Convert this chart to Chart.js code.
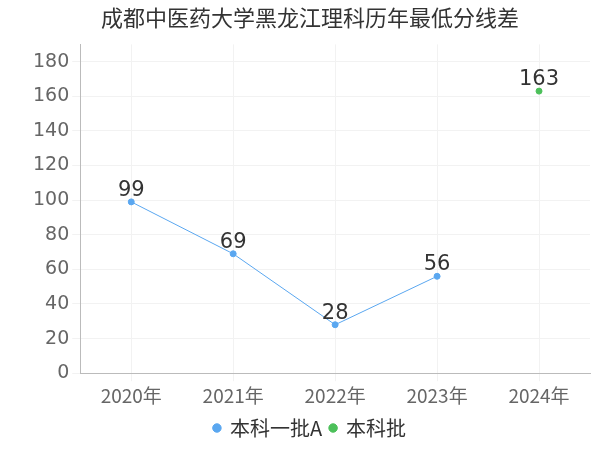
<!DOCTYPE html>
<html><head><meta charset="utf-8">
<script src="https://cdn.jsdelivr.net/npm/chart.js@4"></script>
<style>body{margin:0;background:#fff}#wrap{width:600px;height:450px}</style>
</head><body><div id="wrap"><canvas id="c"></canvas></div>
<script>
const years = ['2020年', '2021年', '2022年', '2023年', '2024年'];
const batchA = [99, 69, 28, 56, null];
const batchB = [null, null, null, null, 163];

const valueLabels = {
    id: 'valueLabels',
    afterDatasetsDraw(chart) {
        const { ctx } = chart;
        ctx.save();
        ctx.font = '21px "DejaVu Sans", sans-serif';
        ctx.fillStyle = '#333';
        ctx.textAlign = 'center';
        ctx.textBaseline = 'bottom';
        chart.data.datasets.forEach((ds, i) => {
            chart.getDatasetMeta(i).data.forEach((pt, j) => {
                if (ds.data[j] == null) return;
                ctx.fillText(ds.data[j], pt.x, pt.y - 1);
            });
        });
        ctx.restore();
    },
};

new Chart(document.getElementById('c'), {
    type: 'line',
    plugins: [valueLabels],
    data: {
        labels: years,
        datasets: [
            { label: '本科一批A', data: batchA, borderColor: '#5aa7f0', backgroundColor: '#5aa7f0', borderWidth: 1, pointRadius: 3 },
            { label: '本科批', data: batchB, borderColor: '#4cc05a', backgroundColor: '#4cc05a', borderWidth: 1, pointRadius: 3 },
        ],
    },
    options: {
        responsive: true,
        maintainAspectRatio: false,
        animation: false,
        layout: { padding: { left: 30, right: 10, top: 0, bottom: 2 } },
        plugins: {
            title: { display: true, text: '成都中医药大学黑龙江理科历年最低分线差', color: '#333', font: { size: 22, weight: 'normal', family: '"Noto Sans CJK SC", sans-serif' }, padding: { top: 4, bottom: 14 } },
            legend: { position: 'bottom', labels: { color: '#333', font: { size: 20, family: '"Noto Sans CJK SC", sans-serif' }, usePointStyle: true, pointStyle: 'circle', boxWidth: 6, boxHeight: 6, padding: 8 } },
        },
        scales: {
            x: { offset: true, grid: { color: '#f2f2f2' }, border: { color: '#bbb' }, ticks: { color: '#666', font: { size: 19, family: '"Noto Sans CJK SC", sans-serif' } } },
            y: { min: 0, max: 190, grid: { color: '#f2f2f2' }, border: { color: '#bbb' },
                 afterBuildTicks: (axis) => { axis.ticks = axis.ticks.filter((t) => t.value % 20 === 0); },
                 ticks: { stepSize: 10, color: '#666', font: { size: 19, family: '"DejaVu Sans", sans-serif' } } },
        },
    },
});
</script></body></html>
